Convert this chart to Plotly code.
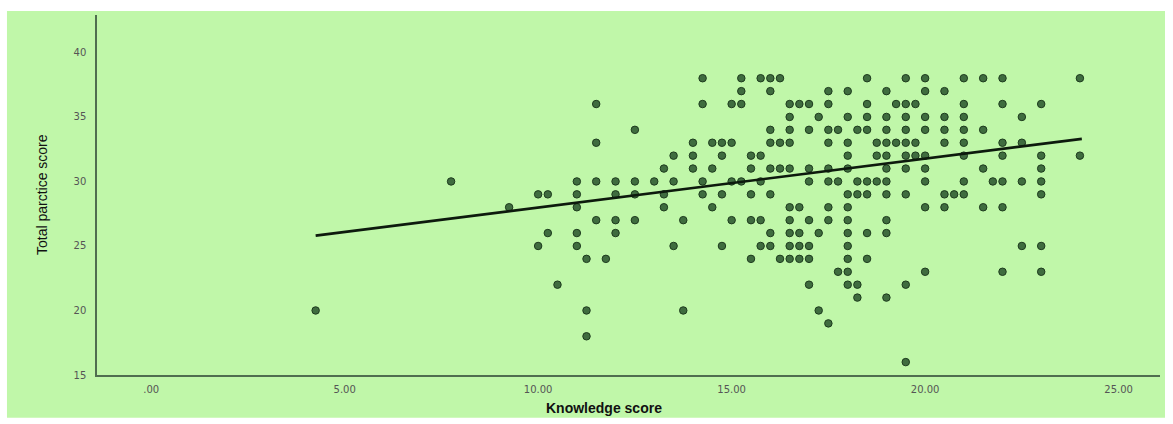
import plotly.graph_objects as go

# Knowledge score (x) grouped by practice score (y)
rows = {
    38: [14.25, 15.25, 15.75, 16.0, 16.25, 18.5, 19.5, 20.0, 21.0, 21.5, 22.0, 24.0],
    37: [15.25, 16.0, 17.5, 18.0, 19.0, 20.0, 20.5],
    36: [11.5, 14.25, 15.0, 15.25, 16.5, 16.75, 17.0, 17.5, 18.5, 19.25, 19.5, 19.75, 21.0, 22.0, 23.0],
    35: [16.5, 17.25, 18.0, 18.5, 19.0, 19.5, 20.0, 20.5, 21.0, 22.5],
    34: [12.5, 16.0, 16.5, 17.0, 17.5, 17.75, 18.25, 18.5, 19.0, 19.5, 20.0, 20.5, 21.0, 21.5],
    33: [11.5, 14.0, 14.5, 14.75, 15.0, 16.0, 16.25, 16.5, 17.5, 18.0, 18.75, 19.0, 19.25, 19.5,
         19.75, 20.5, 21.0, 22.0, 22.5],
    32: [13.5, 14.0, 14.75, 15.5, 15.75, 18.0, 18.75, 19.0, 19.5, 19.75, 20.0, 21.0, 22.0, 23.0, 24.0],
    31: [13.25, 14.0, 14.5, 15.5, 16.0, 16.25, 16.5, 17.0, 17.5, 18.0, 19.0, 19.5, 20.0, 21.5, 23.0],
    30: [7.75, 11.0, 11.5, 12.0, 12.5, 13.0, 13.5, 14.25, 15.0, 15.25, 15.75, 17.0, 17.5, 17.75,
         18.25, 18.5, 18.75, 19.0, 20.0, 21.0, 21.75, 22.0, 22.5, 23.0],
    29: [10.0, 10.25, 11.0, 12.0, 12.5, 13.25, 14.25, 14.75, 15.5, 16.0, 18.0, 18.25, 18.5, 19.0,
         19.5, 20.5, 20.75, 21.0, 23.0],
    28: [9.25, 11.0, 13.25, 14.5, 16.5, 16.75, 17.5, 18.0, 20.0, 20.5, 21.5, 22.0],
    27: [11.5, 12.0, 12.5, 13.75, 15.0, 15.5, 15.75, 16.5, 17.0, 17.5, 18.0, 19.0],
    26: [10.25, 11.0, 12.0, 16.0, 16.5, 16.75, 17.25, 18.0, 18.5, 19.0],
    25: [10.0, 11.0, 13.5, 14.75, 15.75, 16.0, 16.5, 16.75, 17.0, 18.0, 22.5, 23.0],
    24: [11.25, 11.75, 15.5, 16.25, 16.5, 16.75, 17.0, 18.0, 18.5],
    23: [17.75, 18.0, 20.0, 22.0, 23.0],
    22: [10.5, 17.0, 18.0, 18.25, 19.5],
    21: [18.25, 19.0],
    20: [4.25, 11.25, 13.75, 17.25],
    19: [17.5],
    18: [11.25],
    16: [19.5],
}

knowledge = [x for y, xs in rows.items() for x in xs]
practice = [y for y, xs in rows.items() for _ in xs]

# Linear fit line end points
fit_x = [4.25, 24.05]
fit_y = [25.8, 33.3]

x_tickvals = [0, 5, 10, 15, 20, 25]
x_ticktext = [".00", "5.00", "10.00", "15.00", "20.00", "25.00"]
y_tickvals = [15, 20, 25, 30, 35, 40]
y_ticktext = ["15", "20", "25", "30", "35", "40"]

BG = "#c0f7a9"
AXIS = "#4f6e4f"
TICKFONT = dict(family="DejaVu Sans", size=10, color="#555555")

fig = go.Figure()
fig.add_trace(go.Scatter(
    x=knowledge, y=practice, mode="markers",
    marker=dict(symbol="circle", size=7.5, color="#3f6c3f",
                line=dict(color="#1d3b1d", width=1)),
    hoverinfo="x+y", showlegend=False,
))
fig.add_trace(go.Scatter(
    x=fit_x, y=fit_y, mode="lines",
    line=dict(color="#0d1a0d", width=2.6),
    hoverinfo="skip", showlegend=False,
))

fig.update_layout(
    width=1173, height=424,
    margin=dict(l=97, r=13, t=15, b=49),
    paper_bgcolor="white",
    plot_bgcolor="rgba(0,0,0,0)",
    shapes=[dict(
        type="rect", xref="paper", yref="paper",
        x0=-0.0847, x1=1.0047, y0=-0.119, y1=1.011,
        fillcolor=BG, line=dict(width=0), layer="below",
    )],
    xaxis=dict(
        range=[-1.4, 26.07], tickvals=x_tickvals, ticktext=x_ticktext,
        showgrid=False, zeroline=False, showline=True, linecolor=AXIS, linewidth=1.5,
        ticks="", tickfont=TICKFONT, ticklabelstandoff=4,
    ),
    yaxis=dict(
        range=[15, 42.9], tickvals=y_tickvals, ticktext=y_ticktext,
        showgrid=False, zeroline=False, showline=True, linecolor=AXIS, linewidth=1.5,
        ticks="", tickfont=TICKFONT, ticklabelstandoff=7,
    ),
    annotations=[
        dict(text="Knowledge score", xref="paper", yref="paper",
             x=0.477, y=-0.092, xanchor="center", yanchor="middle", showarrow=False,
             font=dict(family="Liberation Sans", size=14, color="#111111", weight="bold")),
        dict(text="Total parctice score", xref="paper", yref="paper",
             x=-0.0517, y=0.5, xanchor="center", yanchor="middle", showarrow=False,
             textangle=-90,
             font=dict(family="Liberation Sans Narrow, Liberation Sans", size=14, color="#111111")),
    ],
)

fig.write_html("out.html")
